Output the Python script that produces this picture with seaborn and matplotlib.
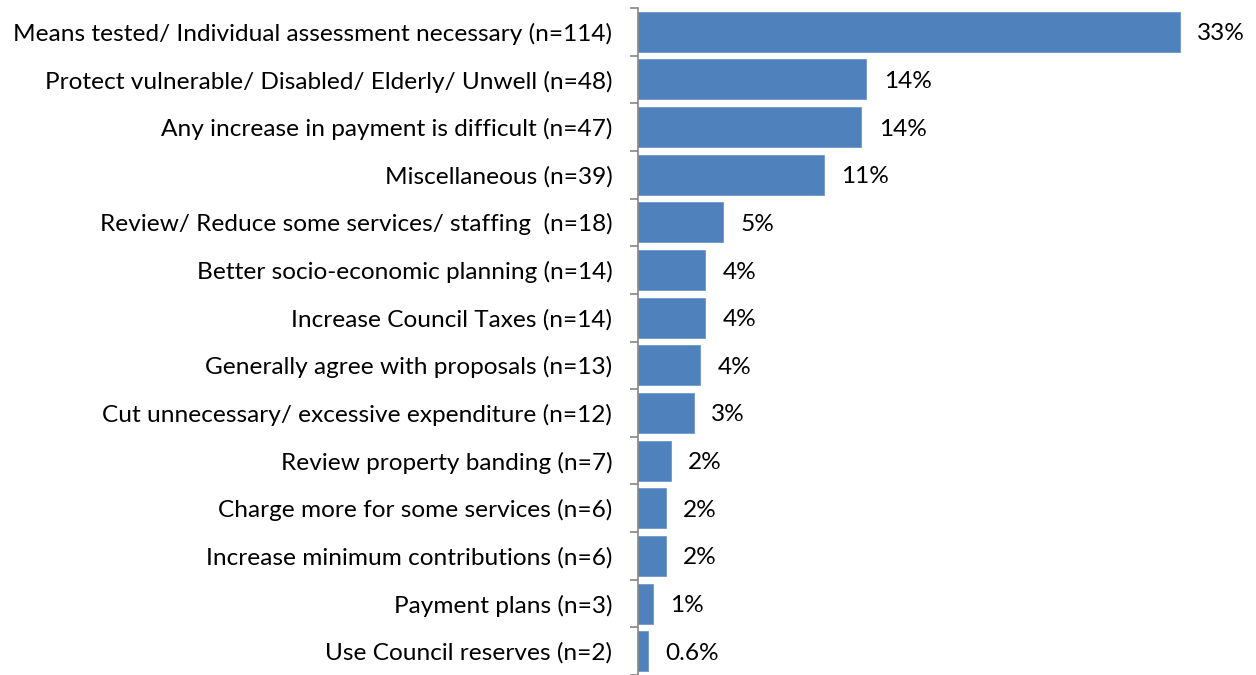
import matplotlib
matplotlib.use("Agg")
import matplotlib.pyplot as plt
import seaborn as sns
import pandas as pd
import numpy as np

categories = [
    "Means tested/ Individual assessment necessary (n=114)",
    "Protect vulnerable/ Disabled/ Elderly/ Unwell (n=48)",
    "Any increase in payment is difficult (n=47)",
    "Miscellaneous (n=39)",
    "Review/ Reduce some services/ staffing  (n=18)",
    "Better socio-economic planning (n=14)",
    "Increase Council Taxes (n=14)",
    "Generally agree with proposals (n=13)",
    "Cut unnecessary/ excessive expenditure (n=12)",
    "Review property banding (n=7)",
    "Charge more for some services (n=6)",
    "Increase minimum contributions (n=6)",
    "Payment plans (n=3)",
    "Use Council reserves (n=2)",
]
percentages = [33.0, 13.9, 13.6, 11.3, 5.2, 4.1, 4.1, 3.8, 3.4, 2.0, 1.7, 1.7, 0.9, 0.6]

sns.set_theme(style="white")
plt.rcParams["font.family"] = ["Lato", "DejaVu Sans"]

FS = 17.6

df = pd.DataFrame({"category": categories, "pct": percentages})

fig = plt.figure(figsize=(12.56, 6.75), dpi=100)
ax = fig.add_axes([638 / 1256, 0.0, 1 - 638 / 1256, 1 - 8 / 675])

sns.barplot(data=df, y="category", x="pct", orient="h", color="#4F81BD",
            saturation=1, width=0.84, edgecolor="#6F97CC", linewidth=0.6, ax=ax)

ax.set_xlim(0, (1256 - 638) / 16.42)
ax.set_ylim(len(categories) - 0.5, -0.5)
ax.set_xlabel("")
ax.set_ylabel("")
ax.set_xticks([])

for i, v in enumerate(percentages):
    txt = f"{v:.1f}%" if v < 0.8 else f"{v:.0f}%"
    ax.annotate(txt, xy=(v, i), xytext=(12.5, 0), textcoords="offset points",
                ha="left", va="center_baseline", fontsize=FS, color="#000000")

for side in ["top", "right", "bottom"]:
    ax.spines[side].set_visible(False)
ax.spines["left"].set_color("#868686")
ax.spines["left"].set_linewidth(1.2)

ax.set_yticks(range(len(categories)))
ax.set_yticklabels(categories, fontsize=FS, color="#000000")
for lbl in ax.get_yticklabels():
    lbl.set_verticalalignment("center_baseline")
ax.tick_params(axis="y", which="major", length=0, pad=18.5)
ax.set_yticks(np.arange(-0.5, len(categories), 1.0), minor=True)
ax.tick_params(axis="y", which="minor", length=6, width=1.2, color="#868686", left=True)

fig.savefig("out.png", dpi=100)
